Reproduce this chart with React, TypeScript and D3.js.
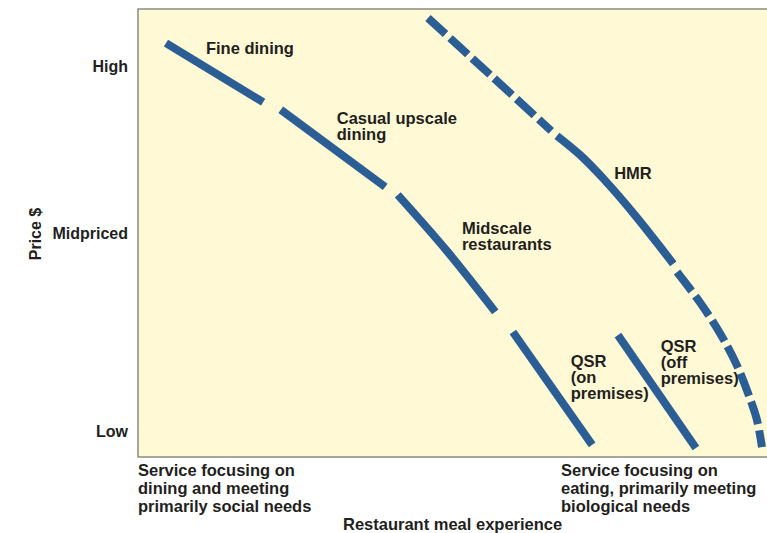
import React, { useEffect, useRef } from "react";
import * as d3 from "d3";

// experience axis 0..100 (social -> biological), price axis 0..100 (low -> high)
const priceTicks = [5.8, 50.0, 87.3];
const priceLabels = ["Low", "Midpriced", "High"];

const fineDining = [[4.45, 92.4], [19.9, 79.2]];
const casualUpscale = [[22.7, 77.5], [39.3, 60.3]];
const midscale = [[41.3, 58.5], [49.1, 46.0], [56.8, 32.4]];
const qsrOnPremises = [[59.6, 27.9], [72.2, 2.7]];
const qsrOffPremises = [[76.3, 27.2], [88.7, 2.0]];
const hmrUpper = [[46.1, 98.0], [56.0, 85.3], [65.7, 72.8]];
const hmrMiddle = [[66.6, 71.7], [70.3, 67.4], [74.2, 61.8], [79.0, 54.0], [83.4, 46.2], [85.1, 43.1]];
const hmrLower = [[85.7, 41.3], [89.3, 34.6], [92.5, 27.7], [95.2, 20.5], [97.1, 13.8], [98.4, 8.3], [99.2, 2.2]];

const segmentLabels = [
  { lines: ["Fine dining"], at: [10.8, 90.0] },
  { lines: ["Casual upscale", "dining"], at: [31.6, 74.3] },
  { lines: ["Midscale", "restaurants"], at: [51.5, 49.8] },
  { lines: ["HMR"], at: [75.7, 62.1] },
  { lines: ["QSR", "(on", "premises)"], at: [68.8, 20.1] },
  { lines: ["QSR", "(off", "premises)"], at: [83.1, 23.4] },
];

const leftNote = ["Service focusing on", "dining and meeting", "primarily social needs"];
const rightNote = ["Service focusing on", "eating, primarily meeting", "biological needs"];
const xTitle = "Restaurant meal experience";
const yTitle = "Price $";

const W = 767;
const H = 533;
const FONT = "'Liberation Sans', Arial, Helvetica, sans-serif";
const INK = "#231f20";
const BLUE = "#2b5e95";

export default function App() {
  const svgRef = useRef<SVGSVGElement>(null);

  useEffect(() => {
    if (!svgRef.current) return;
    const svg = d3.select(svgRef.current);
    svg.selectAll("*").remove();

    const plot = { left: 138, top: 9, right: 767, bottom: 457 };

    const x = d3.scaleLinear().domain([0, 100]).range([plot.left, plot.right]);
    const y = d3.scaleLinear().domain([0, 100]).range([plot.bottom, plot.top]);

    svg
      .append("rect")
      .attr("x", plot.left)
      .attr("y", plot.top)
      .attr("width", plot.right - plot.left + 5)
      .attr("height", plot.bottom - plot.top)
      .attr("fill", "#fff9d6")
      .attr("stroke", "#7a7a72")
      .attr("stroke-width", 1.3);

    const line = d3
      .line<number[]>()
      .x((d) => x(d[0]))
      .y((d) => y(d[1]))
      .curve(d3.curveCatmullRom.alpha(0.5));

    const solid = [fineDining, casualUpscale, midscale, qsrOnPremises, qsrOffPremises, hmrMiddle];
    const dashed = [hmrUpper, hmrLower];

    const g = svg.append("g");
    g.selectAll(".solid")
      .data(solid)
      .enter()
      .append("path")
      .attr("class", "solid")
      .attr("d", (d) => line(d))
      .attr("fill", "none")
      .attr("stroke", BLUE)
      .attr("stroke-width", 8)
      .attr("stroke-linecap", "butt");

    g.selectAll(".dashed")
      .data(dashed)
      .enter()
      .append("path")
      .attr("class", "dashed")
      .attr("d", (d) => line(d))
      .attr("fill", "none")
      .attr("stroke", BLUE)
      .attr("stroke-width", 8)
      .attr("stroke-dasharray", "24 6")
      .attr("stroke-linecap", "butt");

    // segment labels
    segmentLabels.forEach((lab) => {
      const t = svg
        .append("text")
        .attr("x", x(lab.at[0]))
        .attr("y", y(lab.at[1]))
        .style("font-family", FONT)
        .style("font-weight", "bold")
        .style("font-size", "16.5px")
        .style("fill", INK);
      lab.lines.forEach((s, i) => {
        t.append("tspan")
          .attr("x", x(lab.at[0]))
          .attr("dy", i === 0 ? 0 : 16)
          .text(s);
      });
    });

    // price axis
    const axis = svg
      .append("g")
      .attr("transform", `translate(${plot.left},0)`)
      .call(
        d3
          .axisLeft(y)
          .tickValues(priceTicks)
          .tickFormat((_d, i) => priceLabels[i])
          .tickSize(0)
          .tickPadding(10),
      );
    axis.select(".domain").remove();
    axis
      .selectAll("text")
      .style("font-family", FONT)
      .style("font-weight", "bold")
      .style("font-size", "16px")
      .style("fill", INK);

    svg
      .append("text")
      .attr("transform", `translate(41,${234}) rotate(-90)`)
      .attr("text-anchor", "middle")
      .style("font-family", FONT)
      .style("font-weight", "bold")
      .style("font-size", "16px")
      .style("fill", INK)
      .text(yTitle);

    // bottom notes
    const note = (lines: string[], left: number) => {
      const t = svg
        .append("text")
        .attr("x", left)
        .attr("y", 476)
        .style("font-family", FONT)
        .style("font-weight", "bold")
        .style("font-size", "16.5px")
        .style("fill", INK);
      lines.forEach((s, i) => {
        t.append("tspan").attr("x", left).attr("dy", i === 0 ? 0 : 18).text(s);
      });
    };
    note(leftNote, plot.left);
    note(rightNote, 561);

    svg
      .append("text")
      .attr("x", 343)
      .attr("y", 530)
      .style("font-family", FONT)
      .style("font-weight", "bold")
      .style("font-size", "16.5px")
      .style("fill", INK)
      .text(xTitle);
  }, []);

  return (
    <svg
      ref={svgRef}
      width={W}
      height={H}
      style={{ position: "absolute", left: 0, top: 0, background: "#fff" }}
    />
  );
}
